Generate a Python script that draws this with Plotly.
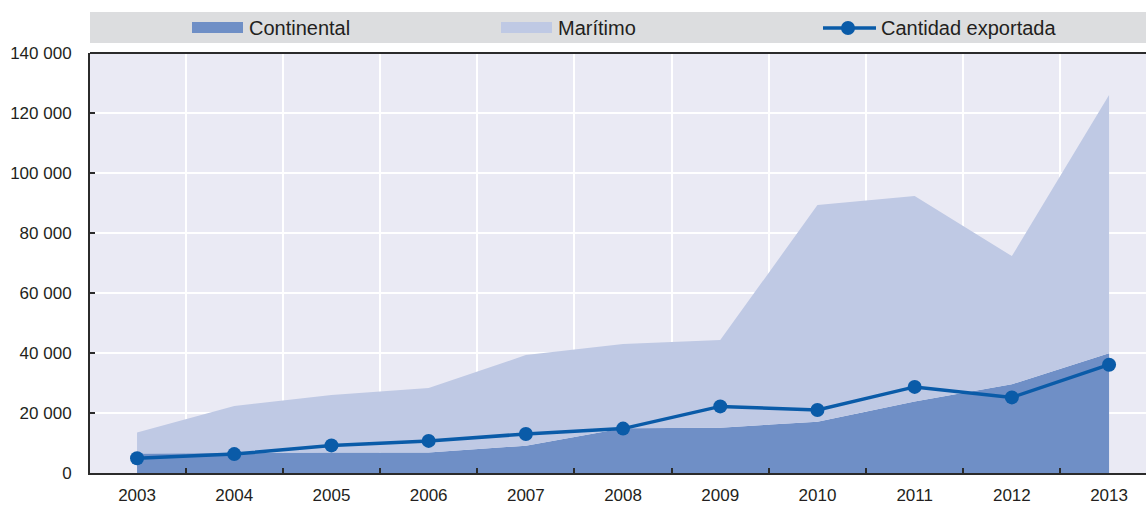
import plotly.graph_objects as go

years = [2003, 2004, 2005, 2006, 2007, 2008, 2009, 2010, 2011, 2012, 2013]
continental = [6500, 6700, 6800, 6800, 9100, 14900, 15100, 17100, 23800, 29600, 39900]
total_transport = [13500, 22300, 26000, 28300, 39300, 43000, 44300, 89300, 92300, 72300, 126000]
maritimo = [t - c for t, c in zip(total_transport, continental)]
cantidad_exportada = [4900, 6300, 9200, 10700, 13000, 14800, 22200, 21000, 28700, 25200, 36100]

y_ticks = list(range(0, 140001, 20000))
y_tick_text = [f"{v:,}".replace(",", " ") for v in y_ticks]

C_CONT = "#6F8FC6"
C_MAR = "#BFC9E4"
C_LINE = "#0A5BA8"
C_TEXT = "#231F20"
C_AXIS = "#2B2B2B"
FONT = "Liberation Sans, Arial, sans-serif"

# plot area in pixels: left 90, right 1146, top 53, bottom 473
L, R, T, B = 90, 1146, 53, 473
def px(xp):
    return (xp - L) / (R - L)
def py(yp):
    return (B - yp) / (B - T)

fig = go.Figure()
fig.add_trace(go.Scatter(
    x=years, y=continental, name="Continental", stackgroup="one",
    mode="none", fillcolor=C_CONT, showlegend=False))
fig.add_trace(go.Scatter(
    x=years, y=maritimo, name="Marítimo", stackgroup="one",
    mode="none", fillcolor=C_MAR, showlegend=False))
fig.add_trace(go.Scatter(
    x=years, y=cantidad_exportada, name="Cantidad exportada",
    mode="lines+markers", line=dict(color=C_LINE, width=3.5),
    marker=dict(color=C_LINE, size=14), showlegend=False))

shapes = [
    # legend band
    dict(type="rect", xref="paper", yref="paper", x0=0, x1=1,
         y0=py(43), y1=py(12), fillcolor="#DCDDDF", line=dict(width=0), layer="below"),
    # top frame line
    dict(type="line", xref="paper", yref="paper", x0=0, x1=1, y0=1, y1=1,
         line=dict(color=C_AXIS, width=2)),
    # legend swatches
    dict(type="rect", xref="paper", yref="paper", x0=px(192), x1=px(243),
         y0=py(33), y1=py(22), fillcolor=C_CONT, line=dict(width=0)),
    dict(type="rect", xref="paper", yref="paper", x0=px(501), x1=px(552),
         y0=py(33), y1=py(22), fillcolor=C_MAR, line=dict(width=0)),
    dict(type="line", xref="paper", yref="paper", x0=px(823), x1=px(876),
         y0=py(28), y1=py(28), line=dict(color=C_LINE, width=3.5)),
    dict(type="circle", xref="paper", yref="paper", xsizemode="pixel", ysizemode="pixel",
         xanchor=px(848), yanchor=py(28), x0=-7, x1=7, y0=-7, y1=7,
         fillcolor=C_LINE, line=dict(width=0)),
]

annotations = []
for text, xs in [("Continental", 247), ("Marítimo", 556), ("Cantidad exportada", 879)]:
    annotations.append(dict(
        text=text, xref="paper", yref="paper", x=px(xs), y=py(28),
        xanchor="left", yanchor="middle", showarrow=False,
        font=dict(family=FONT, size=20, color=C_TEXT)))

fig.update_layout(
    width=1146, height=506,
    margin=dict(l=L, r=1146 - R, t=T, b=506 - B),
    paper_bgcolor="white", plot_bgcolor="#EAEAF4",
    font=dict(family=FONT, color=C_TEXT, size=17),
    shapes=shapes, annotations=annotations,
    xaxis=dict(
        range=[2002.516, 2013.38], tickmode="array", tickvals=years,
        ticktext=[str(y) for y in years], ticks="", showgrid=False,
        showline=True, linecolor=C_AXIS, linewidth=2, zeroline=False,
        ticklabelstandoff=6, tickfont=dict(size=17), automargin=False,
        minor=dict(tickmode="array", tickvals=[y + 0.5 for y in years[:-1]],
                   showgrid=True, gridcolor="white", gridwidth=2,
                   ticks="inside", ticklen=5, tickcolor=C_AXIS, tickwidth=2),
    ),
    yaxis=dict(
        range=[0, 140000], tickmode="array", tickvals=y_ticks, ticktext=y_tick_text,
        showgrid=True, gridcolor="white", gridwidth=2, zeroline=False,
        showline=True, linecolor=C_AXIS, linewidth=2,
        ticks="inside", ticklen=5, tickcolor=C_AXIS, tickwidth=2,
        ticklabelstandoff=13, tickfont=dict(size=17), automargin=False,
    ),
)

fig.write_html("out.html")
